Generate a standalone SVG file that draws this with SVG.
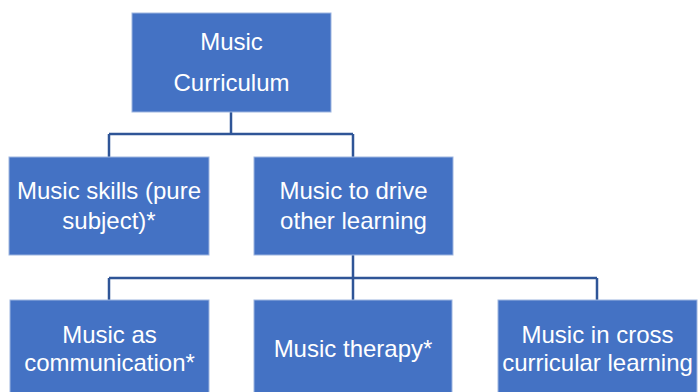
<svg xmlns="http://www.w3.org/2000/svg" width="698" height="392" viewBox="0 0 698 392">
<style>
.box{fill:#4472C4;stroke:#9DB5E0;stroke-width:1}
.t{font-family:"Liberation Sans",Arial,sans-serif;font-size:24px;fill:#FFFFFF;text-anchor:middle}
.c{fill:none;stroke:#2F5597;stroke-width:2.5}
</style>
<rect width="698" height="392" fill="#FFFFFF"/>
<g id="connectors">
<path class="c" d="M231,112 V134 M109,134 H353 M109,134 V157 M353,134 V157"/>
<path class="c" d="M353,255 V278 M109,278 H597 M109,278 V300 M353,278 V300 M597,278 V300"/>
</g>
<g id="n-curriculum">
<rect class="box" x="132" y="13" width="199" height="99"/>
<text class="t" x="231.5" y="50">Music</text>
<text class="t" x="231.5" y="91">Curriculum</text>
</g>
<g id="n-skills">
<rect class="box" x="9" y="157" width="200" height="98"/>
<text class="t" x="109" y="199">Music skills (pure</text>
<text class="t" x="109" y="229">subject)*</text>
</g>
<g id="n-drive">
<rect class="box" x="254" y="157" width="199" height="98"/>
<text class="t" x="353.5" y="199">Music to drive</text>
<text class="t" x="353.5" y="229">other learning</text>
</g>
<g id="n-communication">
<rect class="box" x="10" y="300" width="199" height="100"/>
<text class="t" x="109.5" y="343">Music as</text>
<text class="t" x="109.5" y="371">communication*</text>
</g>
<g id="n-therapy">
<rect class="box" x="254" y="300" width="198" height="100"/>
<text class="t" x="353" y="357">Music therapy*</text>
</g>
<g id="n-cross">
<rect class="box" x="498" y="300" width="199" height="100"/>
<text class="t" x="597.5" y="343">Music in cross</text>
<text class="t" x="597.5" y="371">curricular learning</text>
</g>
</svg>
